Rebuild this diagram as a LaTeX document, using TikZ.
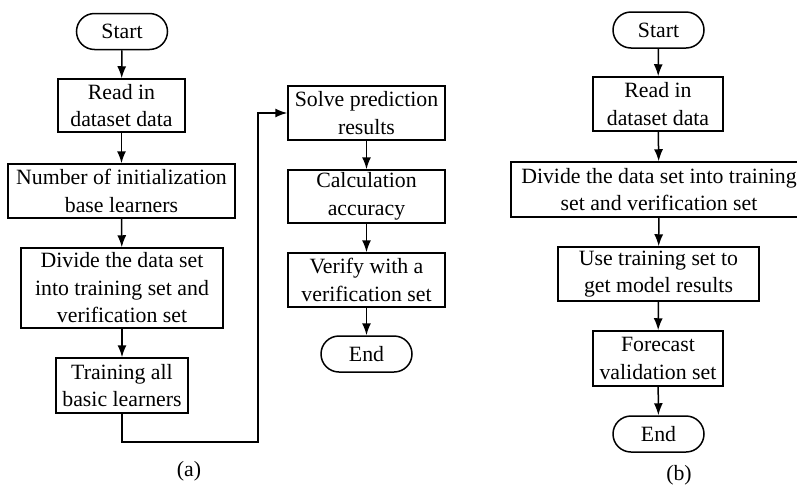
\documentclass[tikz,border=0pt]{standalone}
\usepackage{fontspec}
\setmainfont{Liberation Serif}
\usetikzlibrary{arrows.meta}
\begin{document}
\begin{tikzpicture}[x=1pt,y=1pt,
  every node/.style={font=\fontsize{21.8}{27.5}\selectfont},
  proc/.style={draw,line width=1.5pt,rectangle,inner sep=0pt,align=center},
  term/.style={draw,line width=1.5pt,rectangle,rounded corners=18pt,inner sep=0pt,align=center,
    minimum width=91pt,minimum height=36pt},
  arr/.style={line width=1.5pt,-{Latex[length=12pt,width=9pt]}}]
\useasboundingbox (0,0) rectangle (797,-488);

% flowchart (a)
\node[term] (startA) at (122,-31.5) {Start};
\node[proc,minimum width=127pt,minimum height=53pt] (readA) at (121.5,-105.5) {Read in\\dataset data};
\node[proc,minimum width=227pt,minimum height=54pt] (numA) at (121.5,-191) {Number of initialization\\base learners};
\node[proc,minimum width=202pt,minimum height=80pt] (divA) at (122,-288) {Divide the data set\\into training set and\\verification set};
\node[proc,minimum width=132pt,minimum height=55pt] (trainA) at (122,-385.5) {Training all\\basic learners};
\node[proc,minimum width=157pt,minimum height=54pt] (solve) at (366.5,-113) {Solve prediction\\results};
\node[proc,minimum width=157pt,minimum height=53pt] (calc) at (366.5,-196.5) {Calculation\\accuracy};
\node[proc,minimum width=157pt,minimum height=54pt] (verify) at (366.5,-280) {Verify with a\\verification set};
\node[term] (endA) at (366.5,-354) {End};
\node (labA) at (189,-471) {(a)};
\coordinate (turn) at (258,-442);

\draw[arr] (startA) -- (readA);
\draw[arr] (readA) -- (numA);
\draw[arr] (numA) -- (divA);
\draw[arr] (divA) -- (trainA);
\draw[arr] (trainA.south) |- (turn) |- (solve.west);
\draw[arr] (solve) -- (calc);
\draw[arr] (calc) -- (verify);
\draw[arr] (verify) -- (endA);

% flowchart (b)
\node[term] (startB) at (658.5,-30) {Start};
\node[proc,minimum width=130pt,minimum height=54pt] (readB) at (658,-104) {Read in\\dataset data};
\node[proc,minimum width=296pt,minimum height=55pt] (divB) at (659,-189.5) {Divide the data set into training\\set and verification set};
\node[proc,minimum width=201pt,minimum height=54pt] (useB) at (658.5,-274) {Use training set to\\get model results};
\node[proc,minimum width=130pt,minimum height=55pt] (foreB) at (658,-358.5) {Forecast\\validation set};
\node[term] (endB) at (658.5,-434) {End};
\node (labB) at (679,-475) {(b)};

\draw[arr] (startB) -- (readB);
\draw[arr] (readB) -- (divB);
\draw[arr] (divB) -- (useB);
\draw[arr] (useB) -- (foreB);
\draw[arr] (foreB) -- (endB);
\end{tikzpicture}
\end{document}
